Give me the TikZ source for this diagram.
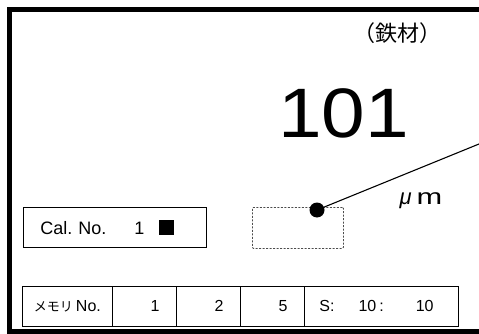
\documentclass[tikz,border=0pt]{standalone}
\usepackage{fontspec}
\setmainfont{Liberation Sans}
\newfontfamily\jpfont{Noto Sans CJK JP}
\usetikzlibrary{positioning}

\tikzset{
  cell/.style={draw, line width=0.8pt, anchor=north west, minimum height=40pt,
    inner xsep=15pt, inner ysep=0pt, font=\fontsize{16}{16}\selectfont},
  numcell/.style={cell, inner xsep=17pt, text width=30pt, align=right},
}

\begin{document}
\begin{tikzpicture}[x=1pt,y=-1pt]
  \useasboundingbox (0,0) rectangle (479,334);
  % outer frame, open to the right
  \draw[line width=5pt] (479,9.5) -- (9.5,9.5) -- (9.5,331) -- (479,331);

  \node[font=\jpfont\fontsize{22}{22}\selectfont] (material) at (397,33) {（鉄材）};
  \node[anchor=base, font=\fontsize{70}{70}\selectfont] (reading) at (343.5,138) {\scalebox{1.12}[1]{101}};
  \node[anchor=base, font=\fontsize{22}{22}\selectfont] (unit) at (421,204) {\textit{μ}\hspace{5pt}\scalebox{1.4}[1]{m}};

  % calibration box
  \node[cell, minimum width=179pt, text width=149pt, inner xsep=17pt, align=left,
    font=\fontsize{18}{18}\selectfont] (cal) at (23,207)
    {Cal.\ No.\hspace{28pt}1\hspace{15pt}\rule{15pt}{15pt}};

  % probe
  \node[draw=black!70, dash pattern=on 2pt off 1.5pt, line width=0.8pt, rounded corners=1pt,
    anchor=north west, minimum width=91pt, minimum height=41pt] (area) at (252,207) {};
  \node[circle, fill=black, minimum size=15pt, inner sep=0pt] (dot) at (317,210) {};
  \coordinate (probe) at (479,144);
  \draw[line width=1.1pt] (dot) -- (probe);

  % memory row
  \node[cell, minimum width=90pt, inner xsep=0pt] (mem) at (22,286)
    {{\jpfont\fontsize{13}{13}\selectfont メモリ}\hspace{3pt}No.};
  \node[numcell, minimum width=64pt] (m1) at (112,286) {1};
  \node[numcell, minimum width=64pt] (m2) at (176,286) {2};
  \node[numcell, minimum width=64pt] (m3) at (240,286) {5};
  \node[cell, minimum width=154pt, text width=124pt, inner xsep=14pt, align=left] (speed) at (304,286)
    {S:\hspace{24pt}10\hspace{3pt}:\hspace{32pt}10};
\end{tikzpicture}
\end{document}
